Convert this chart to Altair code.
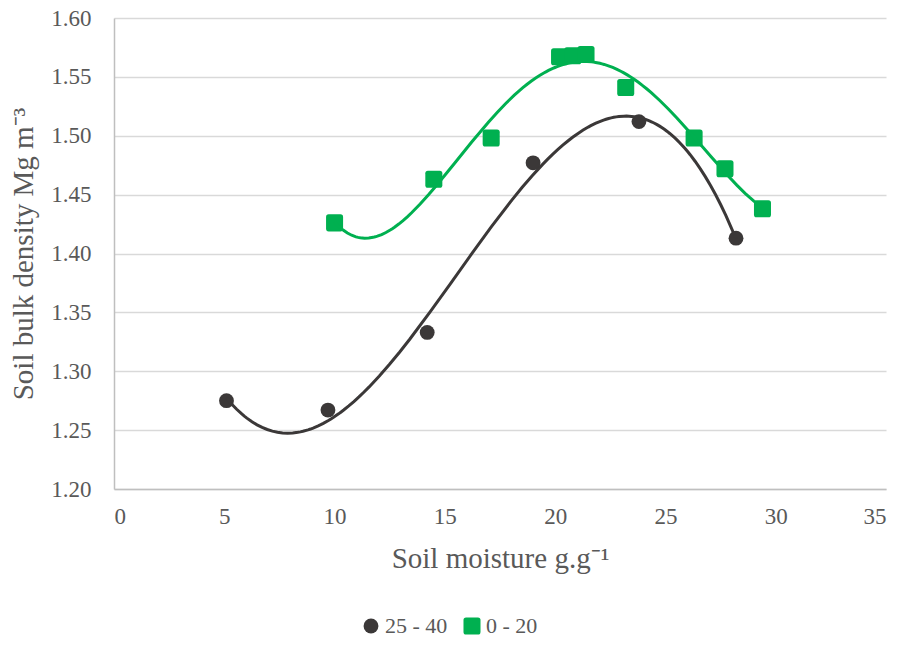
import altair as alt
import pandas as pd

series = ["25 - 40", "0 - 20"]
colors = ["#3B3838", "#00B050"]

dark_x = [5.1, 9.7, 14.2, 19.0, 23.8, 28.2]
dark_y = [1.275, 1.267, 1.333, 1.477, 1.512, 1.413]
green_x = [10.0, 14.5, 17.1, 20.2, 20.8, 21.4, 23.2, 26.3, 27.7, 29.4]
green_y = [1.426, 1.463, 1.498, 1.567, 1.568, 1.569, 1.541, 1.498, 1.472, 1.438]

x_ticks = [0, 5, 10, 15, 20, 25, 30, 35]
y_ticks = [1.20, 1.25, 1.30, 1.35, 1.40, 1.45, 1.50, 1.55, 1.60]

df = pd.DataFrame(
    {"x": dark_x + green_x,
     "y": dark_y + green_y,
     "series": [series[0]] * len(dark_x) + [series[1]] * len(green_x)}
)

rounded_square = ("M-0.7,-1 L0.7,-1 Q1,-1 1,-0.7 L1,0.7 Q1,1 0.7,1 L-0.7,1 "
                  "Q-1,1 -1,0.7 L-1,-0.7 Q-1,-1 -0.7,-1 Z")

FONT = "Liberation Serif"
TXT = "#595959"

axis_style = dict(labelFont=FONT, labelFontSize=23, labelColor=TXT,
                  titleFont=FONT, titleFontSize=29, titleColor=TXT,
                  titleFontWeight="normal", gridColor="#D9D9D9", gridWidth=1.5,
                  domainColor="#BFBFBF", domainWidth=1.5, ticks=False)

xenc = alt.X("x:Q", scale=alt.Scale(domain=[0, 35], nice=False),
             axis=alt.Axis(values=x_ticks, format="d", grid=False,
                           title="Soil moisture g.g⁻¹", titlePadding=16,
                           labelPadding=16, **axis_style))
yenc = alt.Y("y:Q", scale=alt.Scale(domain=[1.20, 1.60], nice=False, zero=False),
             axis=alt.Axis(values=y_ticks, format=".2f", grid=True,
                           title="Soil bulk density Mg m⁻³", titlePadding=12,
                           labelPadding=23, **axis_style))

base = alt.Chart(df)

points = base.mark_point(filled=True, opacity=1).encode(
    x=xenc,
    y=yenc,
    color=alt.Color("series:N", scale=alt.Scale(domain=series, range=colors),
                    legend=alt.Legend(title=None, orient="none", direction="horizontal",
                                      legendX=246, legendY=597, symbolSize=240,
                                      labelFont=FONT, labelFontSize=22, labelColor=TXT,
                                      columnPadding=13, labelOffset=3,
                                      symbolStrokeWidth=0)),
    shape=alt.Shape("series:N", scale=alt.Scale(domain=series, range=["circle", rounded_square]),
                    legend=None),
    size=alt.Size("series:N", scale=alt.Scale(domain=series, range=[220, 290]), legend=None),
)

line_dark = base.transform_filter(alt.datum.series == series[0]).transform_regression(
    "x", "y", method="poly", order=3
).mark_line(color=colors[0], strokeWidth=3).encode(x="x:Q", y="y:Q")

line_green = base.transform_filter(alt.datum.series == series[1]).transform_regression(
    "x", "y", method="poly", order=4
).mark_line(color=colors[1], strokeWidth=3).encode(x="x:Q", y="y:Q")

chart = alt.layer(points, line_dark, line_green).properties(
    width=772, height=471,
    autosize=alt.AutoSizeParams(type="none"),
    padding={"left": 106, "top": 10, "right": 7, "bottom": 148},
).configure_view(stroke=None)

chart.save("out.html", embed_options={"renderer": "svg", "actions": False})
